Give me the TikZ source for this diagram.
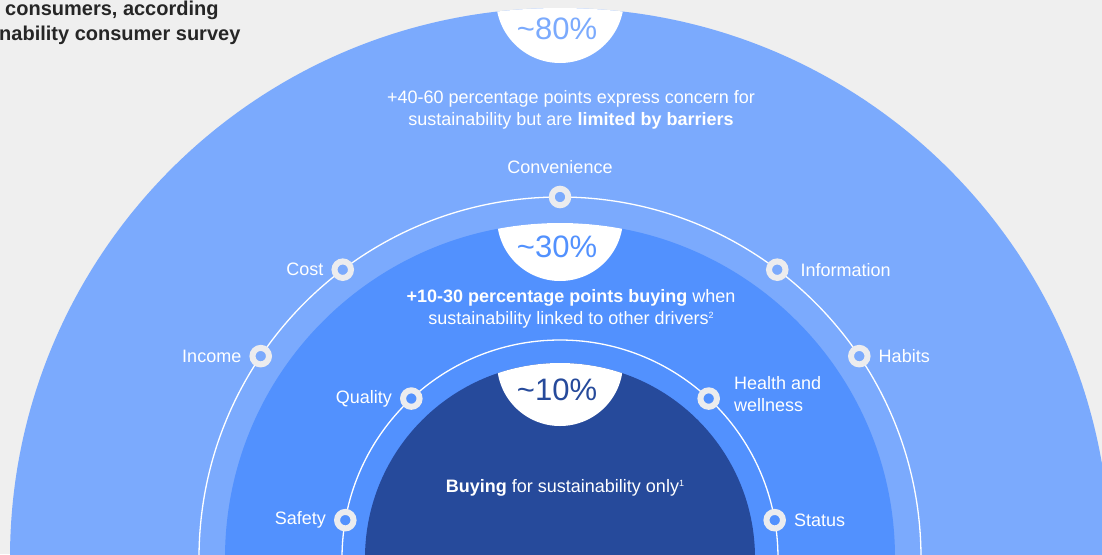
\documentclass[tikz,border=0pt]{standalone}
\usepackage{fontspec}
\setmainfont{Liberation Sans}
\usetikzlibrary{positioning}

\definecolor{pagegray}{RGB}{239,239,239}
\definecolor{paleblue}{RGB}{123,170,253}
\definecolor{midblue}{RGB}{82,145,254}
\definecolor{deepblue}{RGB}{38,74,155}
\definecolor{ringgray}{RGB}{236,236,238}
\definecolor{headgray}{RGB}{38,38,38}

\newcommand{\footmark}[1]{\raisebox{6pt}{\fontsize{9}{9}\selectfont #1}}

\begin{document}
\begin{tikzpicture}[x=1pt, y=-1pt,
    driver/.style={circle, draw=ringgray, line width=6pt, minimum size=16.5pt, inner sep=0pt},
    driver text/.style={text=white, font=\fontsize{18}{22}\selectfont, inner sep=2pt},
    body text/.style={text=white, align=center, font=\fontsize{18}{22}\selectfont},
    share/.style={font=\fontsize{31}{31}\selectfont, anchor=base},
    headline/.style={text=headgray, font=\bfseries\fontsize{20}{24}\selectfont, anchor=base west, inner sep=0pt}]

    % page
    \fill [pagegray] (0,0) rectangle (1102,554);
    \clip (0,0) rectangle (1102,554);
    \coordinate (centre) at (560,558);

    % outer circle
    \fill [paleblue] (centre) circle (550pt);
    \begin{scope}
        \clip (centre) circle (550pt);
        \fill [white] (560,-1) circle (64pt);
    \end{scope}

    % middle circle
    \fill [midblue] (centre) circle (335pt);
    \begin{scope}
        \clip (centre) circle (335pt);
        \fill [white] (560,218) circle (63pt);
    \end{scope}

    % inner circle
    \fill [deepblue] (centre) circle (195pt);
    \begin{scope}
        \clip (centre) circle (195pt);
        \fill [white] (560,363) circle (63pt);
    \end{scope}

    % rings
    \draw [white, line width=1.3pt] (centre) circle (361pt);
    \draw [white, line width=1.3pt] (centre) circle (218pt);

    % drivers on outer ring
    \foreach \n/\a/\l/\p/\d in {convenience/90/Convenience/above/10pt, cost/127/Cost/left/6pt,
                                income/146/Income/left/6pt, information/53/Information/right/10pt,
                                habits/34/Habits/right/6pt}
        \path (centre) ++(\a:361pt) node [driver, fill=paleblue] (\n) {}
            node [driver text, \p=\d\space of \n] (\n-label) {\l};

    % drivers on inner ring
    \foreach \n/\a/\l/\p in {quality/133/Quality/left, safety/170/Safety/left, status/10/Status/right}
        \path (centre) ++(\a:218pt) node [driver, fill=midblue] (\n) {}
            node [driver text, \p=6pt of \n] (\n-label) {\l};
    \path (centre) ++(47:218pt) node [driver, fill=midblue] (health) {};
    \node [driver text, align=left, right=12pt of health, yshift=5pt] (health-label) {Health and\\wellness};

    % shares
    \node [share, text=paleblue] (share-80) at (557,39) {\textasciitilde80\%};
    \node [share, text=midblue] (share-30) at (557,257) {\textasciitilde30\%};
    \node [share, text=deepblue] (share-10) at (557,400) {\textasciitilde10\%};

    % texts
    \node [body text] (barriers) at (571,110)
        {+40-60 percentage points express concern for\\sustainability but are \textbf{limited by barriers}};
    \node [body text] (drivers) at (571,309)
        {\textbf{+10-30 percentage points buying} when\\sustainability linked to other drivers\footmark{2}};
    \node [body text] (only) at (565,488)
        {\textbf{Buying} for sustainability only\footmark{1}};

    % headline
    \node [headline] (survey-line1) at (5,15) {consumers, according};
    \node [headline] (survey-line2) at (-1,40) {nability consumer survey};

\end{tikzpicture}
\end{document}
